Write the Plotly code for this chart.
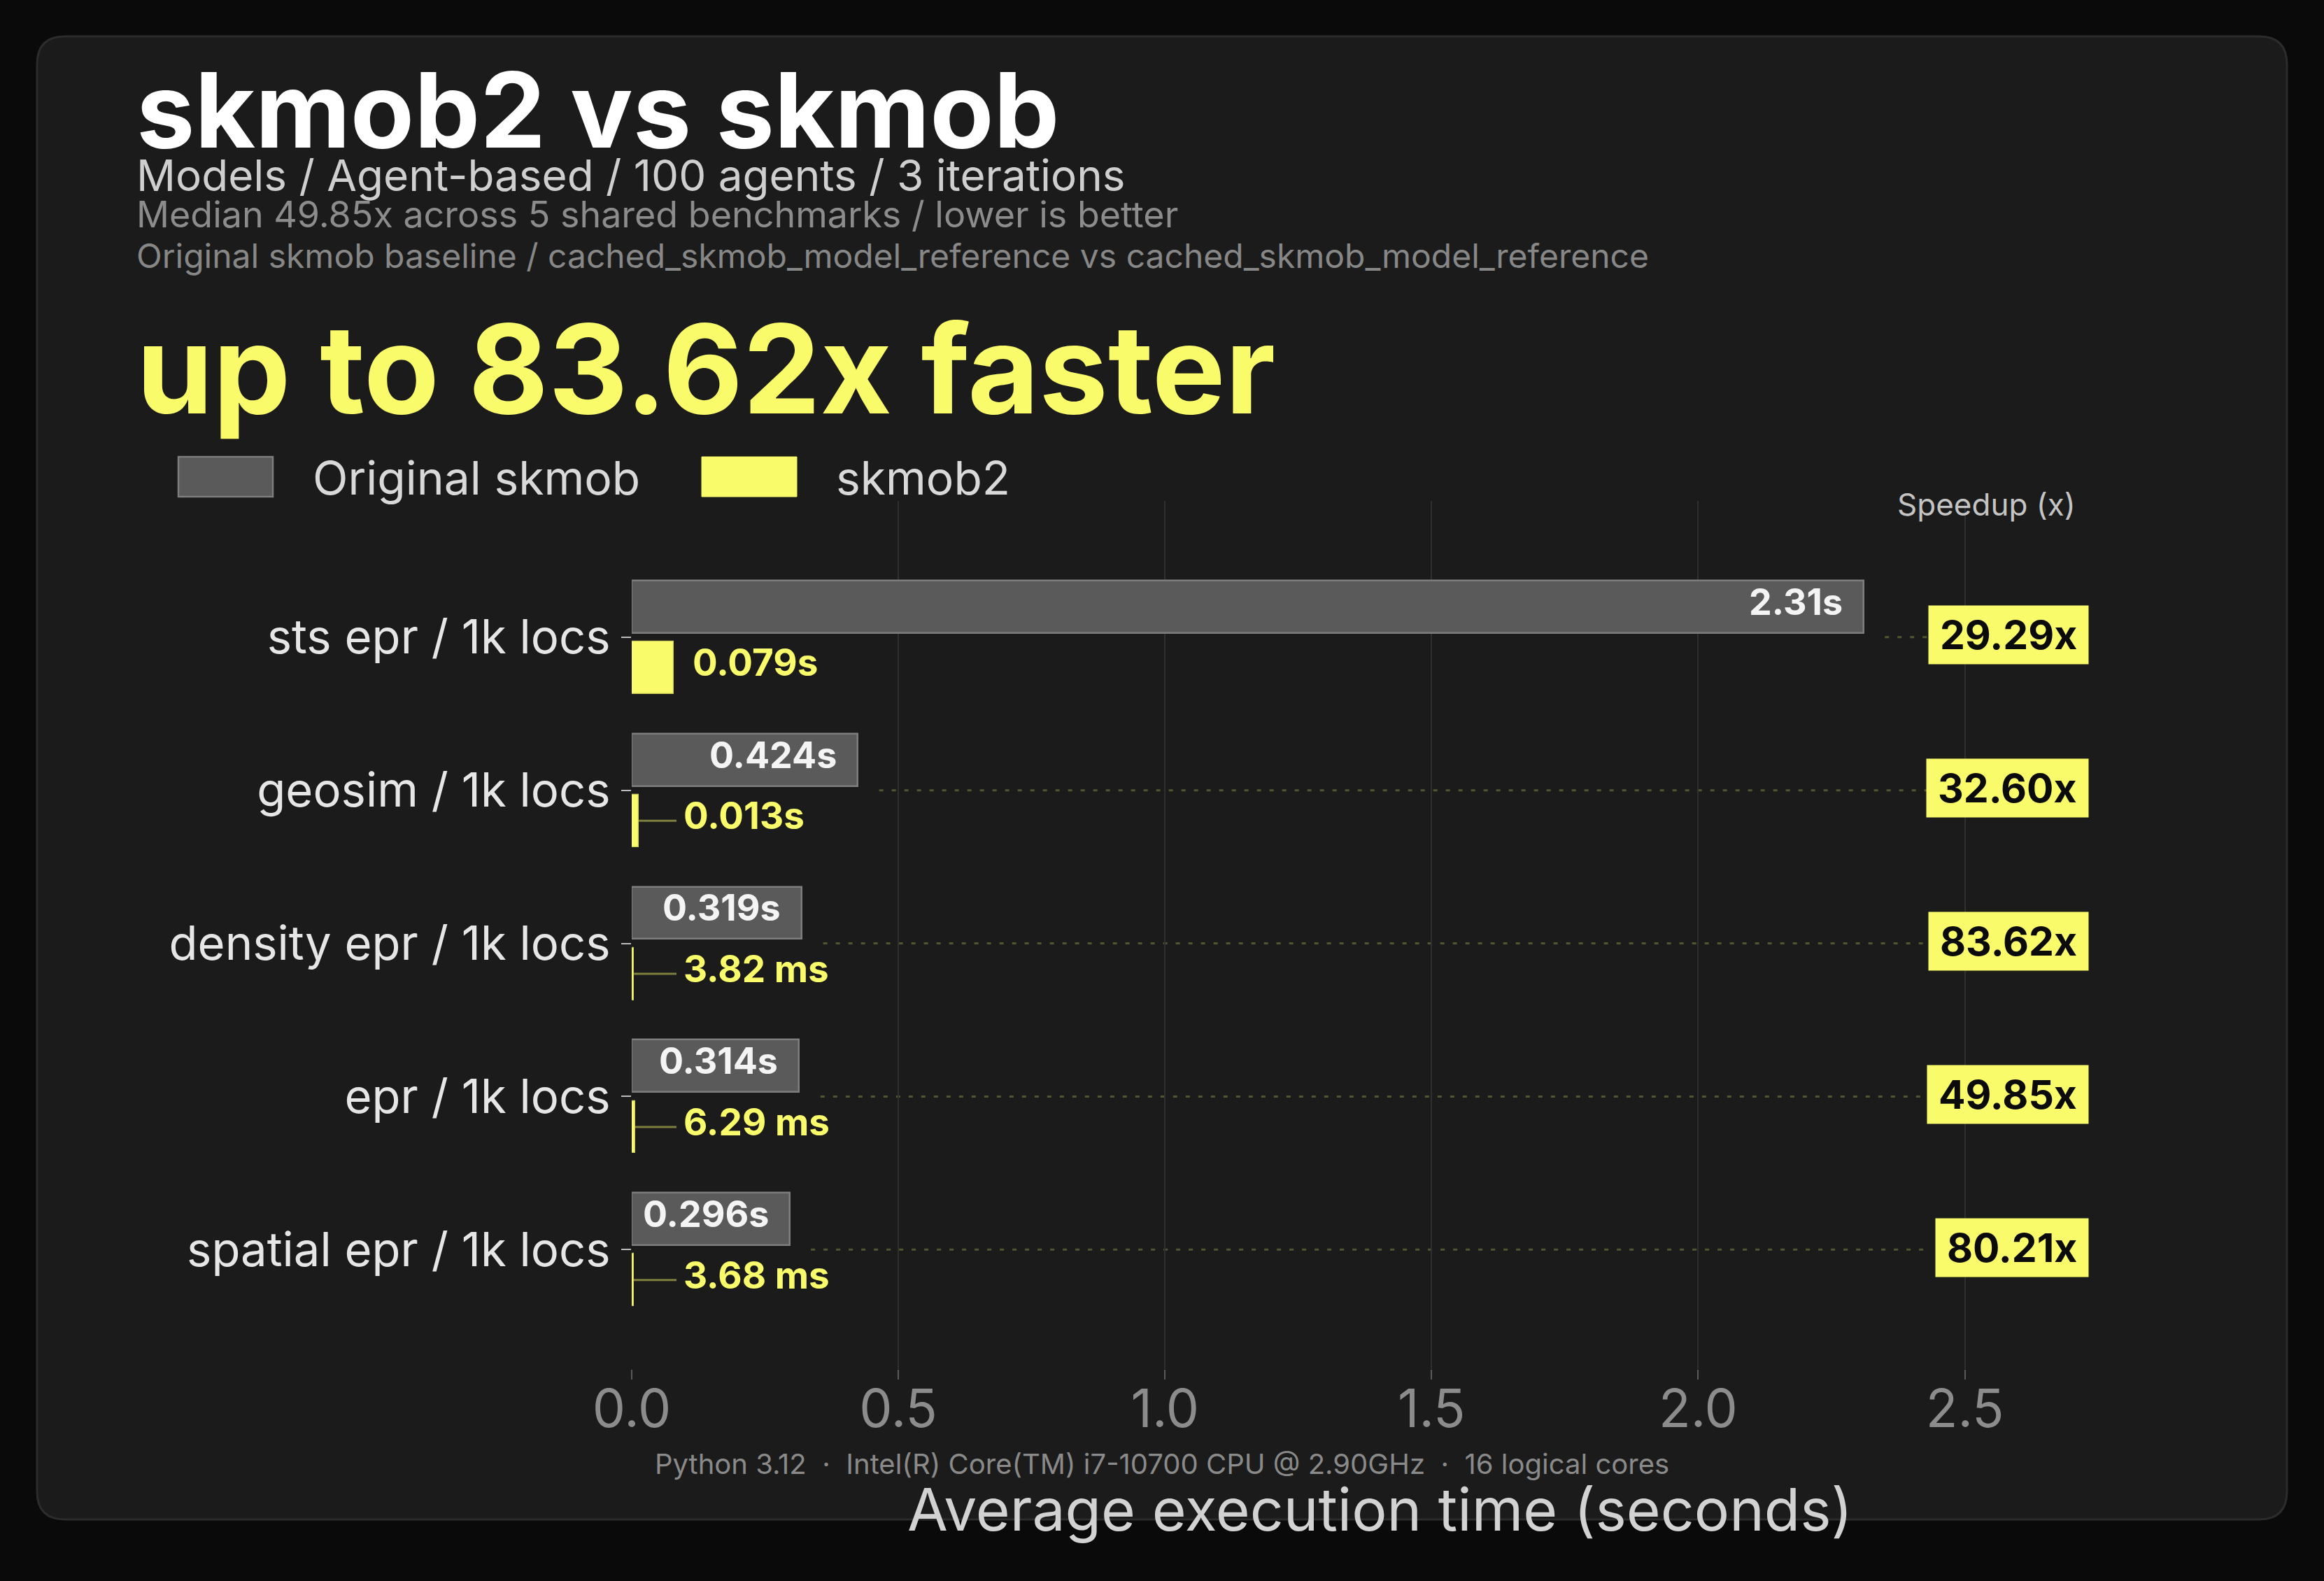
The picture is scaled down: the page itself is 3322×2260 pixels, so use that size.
import plotly.graph_objects as go

# ---------------- data ----------------
benchmarks = ["sts epr / 1k locs", "geosim / 1k locs", "density epr / 1k locs",
              "epr / 1k locs", "spatial epr / 1k locs"]
skmob_s = [2.31, 0.424, 0.319, 0.314, 0.296]          # Original skmob (seconds)
skmob2_s = [0.079, 0.013, 0.00382, 0.00629, 0.00368]  # skmob2 (seconds)
speedup_x = [29.29, 32.60, 83.62, 49.85, 80.21]
x_ticks = [0.0, 0.5, 1.0, 1.5, 2.0, 2.5]

title = "skmob2 vs skmob"
subtitle = "Models / Agent-based / 100 agents / 3 iterations"
line3 = "Median 49.85x across 5 shared benchmarks / lower is better"
line4 = "Original skmob baseline / cached_skmob_model_reference vs cached_skmob_model_reference"
headline = "up to 83.62x faster"
footer = "Python 3.12  \u00b7  Intel(R) Core(TM) i7-10700 CPU @ 2.90GHz  \u00b7  16 logical cores"

# ---------------- style ----------------
W, H = 3322, 2260
L, R, T, B = 903, 3022, 716, 1957
FONT = "Inter"
YEL = "#f9fb6b"
GRAY_FILL = "#5a5a5a"
GRAY_LINE = "#7e7e7e"
CARD = "#1b1b1b"
PAGE = "#0a0a0a"
X_MAX = 2.78
BAR_W = 0.342
GRAY_OFF = -0.37
YEL_OFF = 0.028
SPEED_X = 2.733


def px(x):
    return (x - L) / (R - L)


def py(y):
    return (B - y) / (B - T)


def fmt(v):
    if v < 0.01:
        return f"{v * 1000:.2f} ms"
    return f"{v:.3g}s"


ypos = list(range(len(benchmarks)))

fig = go.Figure()
fig.add_trace(go.Bar(
    y=ypos, x=skmob_s, orientation="h", name="Original skmob",
    width=BAR_W, offset=GRAY_OFF,
    marker=dict(color=GRAY_FILL, line=dict(color=GRAY_LINE, width=2.5)),
    hoverinfo="skip", showlegend=False))
fig.add_trace(go.Bar(
    y=ypos, x=skmob2_s, orientation="h", name="skmob2",
    width=BAR_W, offset=YEL_OFF,
    marker=dict(color=YEL, line=dict(color="#c9cb55", width=1.2)),
    hoverinfo="skip", showlegend=False))

shapes = []
annotations = []

# card
x0, x1 = px(53), px(3269)
y0, y1 = py(52), py(2172)
rx, ry = 40 / (R - L), 40 / (B - T)
card_path = (f"M {x0+rx},{y0} L {x1-rx},{y0} Q {x1},{y0} {x1},{y0-ry} "
             f"L {x1},{y1+ry} Q {x1},{y1} {x1-rx},{y1} L {x0+rx},{y1} "
             f"Q {x0},{y1} {x0},{y1+ry} L {x0},{y0-ry} Q {x0},{y0} {x0+rx},{y0} Z")
shapes.append(dict(type="path", path=card_path, xref="paper", yref="paper",
                   fillcolor=CARD, line=dict(color="#2c2c2c", width=3), layer="below"))

gray_c = GRAY_OFF + BAR_W / 2
yel_c = YEL_OFF + BAR_W / 2
for i, (a, b, s) in enumerate(zip(skmob_s, skmob2_s, speedup_x)):
    # dotted connector to speedup badge
    shapes.append(dict(type="line", xref="x", yref="y", x0=a + 0.04, x1=2.43, y0=i, y1=i,
                       line=dict(color="rgba(249,251,107,0.26)", width=3, dash="6px,12px"),
                       layer="below"))
    # gray value label
    annotations.append(dict(x=a, y=i + gray_c, xref="x", yref="y", text=fmt(a),
                            xanchor="right", yanchor="middle", xshift=-28, yshift=7,
                            showarrow=False,
                            font=dict(family=FONT, size=52, color="#f4f4f4", weight=700)))
    # yellow value label
    lx = max(b + 0.033, 0.095)
    if b + 0.033 < 0.095:
        shapes.append(dict(type="line", xref="x", yref="y", x0=b, x1=0.084,
                           y0=i + yel_c, y1=i + yel_c,
                           line=dict(color="rgba(249,251,107,0.45)", width=3)))
    annotations.append(dict(x=lx, y=i + yel_c, xref="x", yref="y", text=fmt(b),
                            xanchor="left", yanchor="middle", yshift=7, showarrow=False,
                            font=dict(family=FONT, size=53, color=YEL, weight=700)))
    # speedup badge
    annotations.append(dict(x=SPEED_X, y=i, xref="x", yref="y",
                            text=f"\u2009{s:.2f}x\u2009",
                            xanchor="right", yanchor="middle", yshift=3, showarrow=False,
                            bgcolor=YEL, borderpad=7,
                            font=dict(family=FONT, size=57, color="#0b0b0b", weight=700)))

# legend
shapes.append(dict(type="rect", xref="paper", yref="paper",
                   x0=px(255), x1=px(390), y0=py(710), y1=py(653),
                   fillcolor=GRAY_FILL, line=dict(color=GRAY_LINE, width=2.5)))
shapes.append(dict(type="rect", xref="paper", yref="paper",
                   x0=px(1003), x1=px(1139), y0=py(710), y1=py(653),
                   fillcolor=YEL, line=dict(color=YEL, width=1)))
annotations.append(dict(x=px(445), y=py(683), xref="paper", yref="paper", text="Original skmob",
                        xanchor="left", yanchor="middle", showarrow=False,
                        font=dict(family=FONT, size=66, color="#d9d9d9")))
annotations.append(dict(x=px(1193), y=py(683), xref="paper", yref="paper", text="skmob2",
                        xanchor="left", yanchor="middle", showarrow=False,
                        font=dict(family=FONT, size=66, color="#d9d9d9")))

# header texts
def head(text, ymid, size, color, weight=400):
    annotations.append(dict(x=px(193), y=py(ymid), xref="paper", yref="paper", text=text,
                            xanchor="left", yanchor="middle", showarrow=False,
                            font=dict(family=FONT, size=size, color=color, weight=weight)))

head(title, 157, 149, "#ffffff", 700)
head(subtitle, 250, 62, "#cfcfcf")
head(line3, 306, 52, "#8c8c8c")
head(line4, 365, 48, "#878787")
head(headline, 526, 176, YEL, 700)

annotations.append(dict(x=px(2839), y=py(721), xref="paper", yref="paper", text="Speedup (x)",
                        xanchor="center", yanchor="middle", showarrow=False,
                        font=dict(family=FONT, size=44, color="#c4c4c4")))
annotations.append(dict(x=px(1661), y=py(2092), xref="paper", yref="paper", text=footer,
                        xanchor="center", yanchor="middle", showarrow=False,
                        font=dict(family=FONT, size=40, color="#8a8a8a")))
annotations.append(dict(x=px(1972), y=py(2157), xref="paper", yref="paper",
                        text="Average execution time (seconds)",
                        xanchor="center", yanchor="middle", showarrow=False,
                        font=dict(family=FONT, size=84, color="#d2d2d2")))

fig.update_layout(
    width=W, height=H,
    margin=dict(l=L, r=W - R, t=T, b=H - B, pad=0),
    paper_bgcolor=PAGE, plot_bgcolor="rgba(0,0,0,0)",
    barmode="overlay", bargap=0,
    shapes=shapes, annotations=annotations,
    font=dict(family=FONT),
    xaxis=dict(range=[0, X_MAX], tickvals=x_ticks, ticktext=[f"{v:.1f}" for v in x_ticks],
               showgrid=True, gridcolor="#2f2f2f", gridwidth=2, zeroline=False,
               ticks="outside", ticklen=14, tickwidth=2, tickcolor="#5a5a5a",
               ticklabelstandoff=-22,
               tickfont=dict(family=FONT, size=75, color="#8c8c8c"),
               showline=False, fixedrange=True),
    yaxis=dict(range=[4.78, -0.89], tickvals=ypos, ticktext=benchmarks,
               showgrid=False, zeroline=False, ticks="outside", ticklen=14, tickwidth=2,
               tickcolor="#bdbdbd", ticklabelstandoff=2,
               tickfont=dict(family=FONT, size=67, color="#e6e6e6"),
               showline=False, fixedrange=True),
)

fig.write_html("out.html")
